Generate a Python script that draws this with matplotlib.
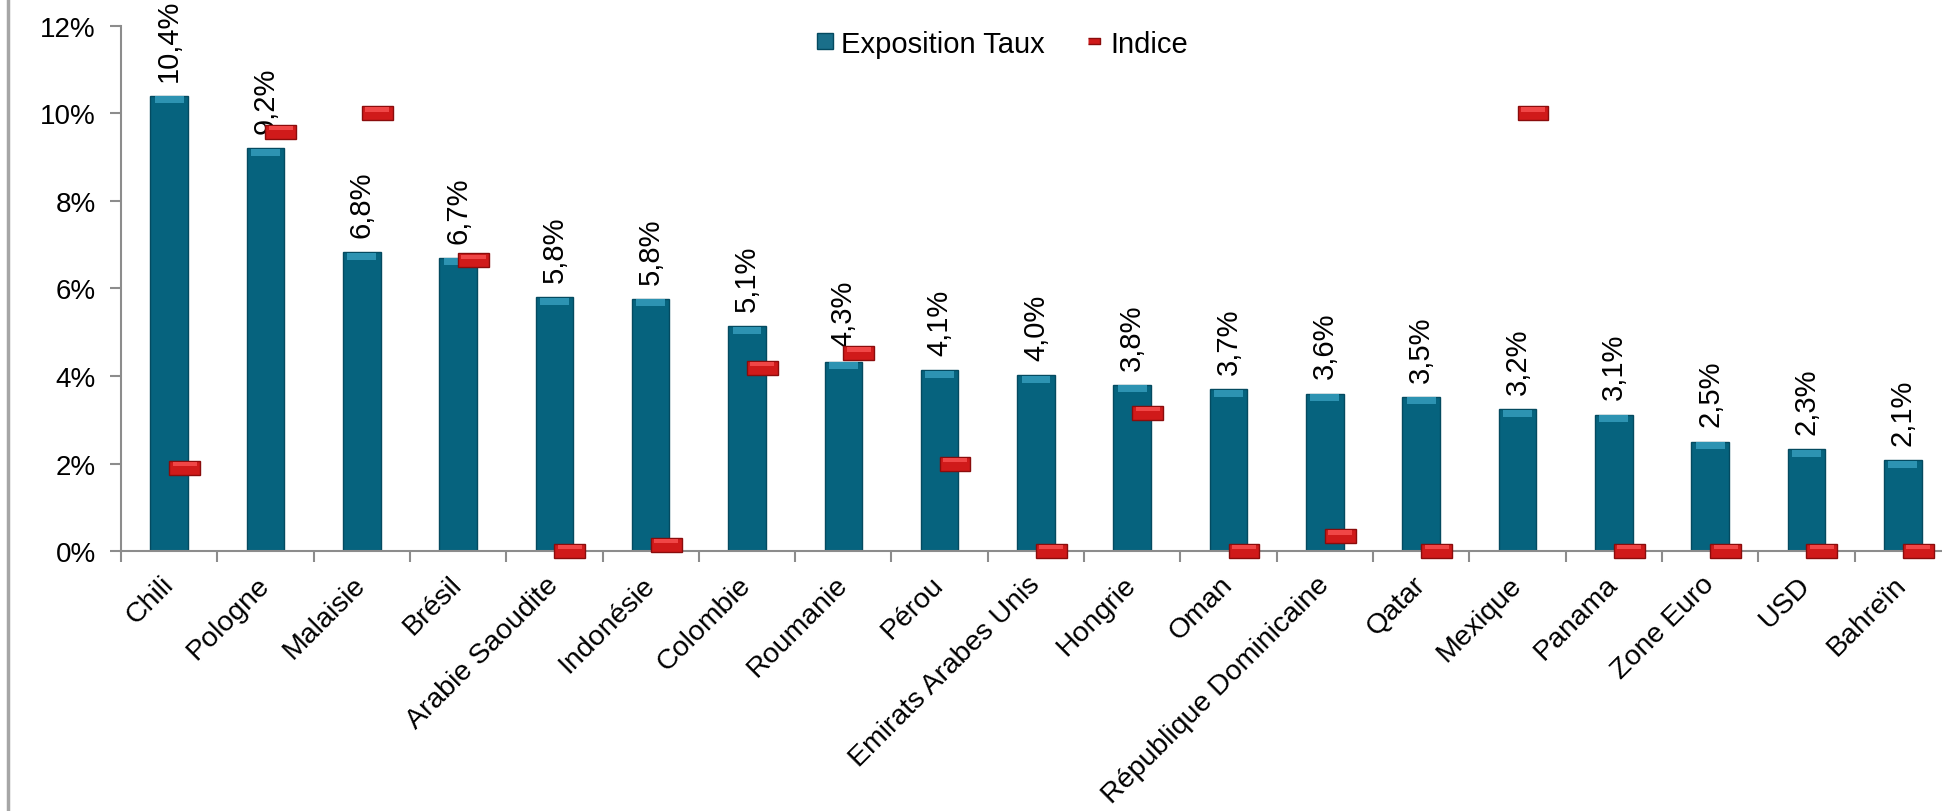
import matplotlib
matplotlib.use("Agg")
from matplotlib import pyplot as plt
from matplotlib.lines import Line2D
from matplotlib import transforms
import numpy as np

plt.rcParams['font.family'] = ['Liberation Sans', 'DejaVu Sans']

# Data
pays = ["Chili", "Pologne", "Malaisie", "Brésil", "Arabie Saoudite", "Indonésie",
        "Colombie", "Roumanie", "Pérou", "Emirats Arabes Unis", "Hongrie", "Oman",
        "République Dominicaine", "Qatar", "Mexique", "Panama", "Zone Euro", "USD",
        "Bahreïn"]
exposition = [10.4, 9.2, 6.83, 6.7, 5.8, 5.76, 5.14, 4.33, 4.13, 4.02, 3.8, 3.7,
              3.6, 3.52, 3.24, 3.12, 2.5, 2.33, 2.08]
indice = [1.9, 9.58, 10.0, 6.64, 0.0, 0.14, 4.18, 4.52, 2.0, 0.0, 3.16, 0.0,
          0.34, 0.0, 10.0, 0.0, 0.0, 0.0, 0.0]
y_ticks = [0, 2, 4, 6, 8, 10, 12]

TEAL = "#06637e"
TEAL_TOP = "#2d93b2"
TEAL_EDGE = "#044a60"
RED = "#d01a1a"
RED_TOP = "#f04646"
RED_EDGE = "#8a0c0c"
GREY = "#8c8c8c"

fig = plt.figure(figsize=(19.42, 8.12), dpi=100)
ax = fig.add_axes([0.0623, 0.320, 0.9423, 0.647])

x = np.arange(len(pays))
expo = np.array(exposition)
ind = np.array(indice)

# bars with a lighter bevel on top
ax.bar(x, expo, width=0.39, color=TEAL, edgecolor=TEAL_EDGE, linewidth=1, zorder=2)
ax.bar(x, 0.16, bottom=expo - 0.17, width=0.30, color=TEAL_TOP, linewidth=0, zorder=3)

# indice markers (small red blocks)
mh = 0.32
ax.bar(x + 0.16, mh, bottom=ind - mh / 2, width=0.32, color=RED,
       edgecolor=RED_EDGE, linewidth=1, zorder=4, clip_on=False)
ax.bar(x + 0.16, mh * 0.3, bottom=ind + mh * 0.12, width=0.25, color=RED_TOP,
       linewidth=0, zorder=5, clip_on=False)

# data labels
for xi, v in zip(x, expo):
    ax.annotate(f"{v:.1f}%".replace(".", ","), (xi, v), xytext=(0, 11),
                textcoords="offset points", rotation=90, ha="center", va="bottom",
                fontsize=21, annotation_clip=False)

ax.set_xlim(-0.5, len(pays) - 0.5)
ax.set_ylim(0, 12)
ax.set_yticks(y_ticks)
ax.set_yticklabels([f"{t}%" for t in y_ticks], fontsize=20)

ax.set_xticks(x)
ax.set_xticklabels(pays, rotation=45, ha="right", va="center",
                   rotation_mode="anchor", fontsize=20.5)
shift = transforms.ScaledTranslation(4 / 100, 0, fig.dpi_scale_trans)
for lab in ax.get_xticklabels():
    lab.set_transform(lab.get_transform() + shift)
ax.set_xticks(np.arange(len(pays) + 1) - 0.5, minor=True)
ax.tick_params(axis="x", which="major", length=0, pad=21)
ax.tick_params(axis="x", which="minor", length=8, width=1.5, color=GREY)
ax.tick_params(axis="y", length=8, width=1.5, color=GREY, pad=10)

for s in ["top", "right"]:
    ax.spines[s].set_visible(False)
for s in ["left", "bottom"]:
    ax.spines[s].set_color(GREY)
    ax.spines[s].set_linewidth(1.5)

# legend
h1 = Line2D([], [], linestyle="none", marker="s", markersize=11,
            markerfacecolor="#1a6f8a", markeredgecolor=TEAL_EDGE)
h2 = Line2D([], [], linestyle="none",
            marker=[(-1, -0.55), (1, -0.55), (1, 0.55), (-1, 0.55)],
            markersize=9, markerfacecolor=RED, markeredgecolor=RED_EDGE)
fig.legend([h1, h2], ["Exposition Taux", "Indice"], loc="center",
           bbox_to_anchor=(0.516, 0.945), ncol=2, frameon=False, fontsize=21,
           handlelength=0.6, handletextpad=0.25, columnspacing=1.4)

# left border line
fig.add_artist(Line2D([0.004, 0.004], [0, 1], color="#a6a6a6", linewidth=2.5,
                      transform=fig.transFigure))

fig.savefig("out.png", dpi=100)
